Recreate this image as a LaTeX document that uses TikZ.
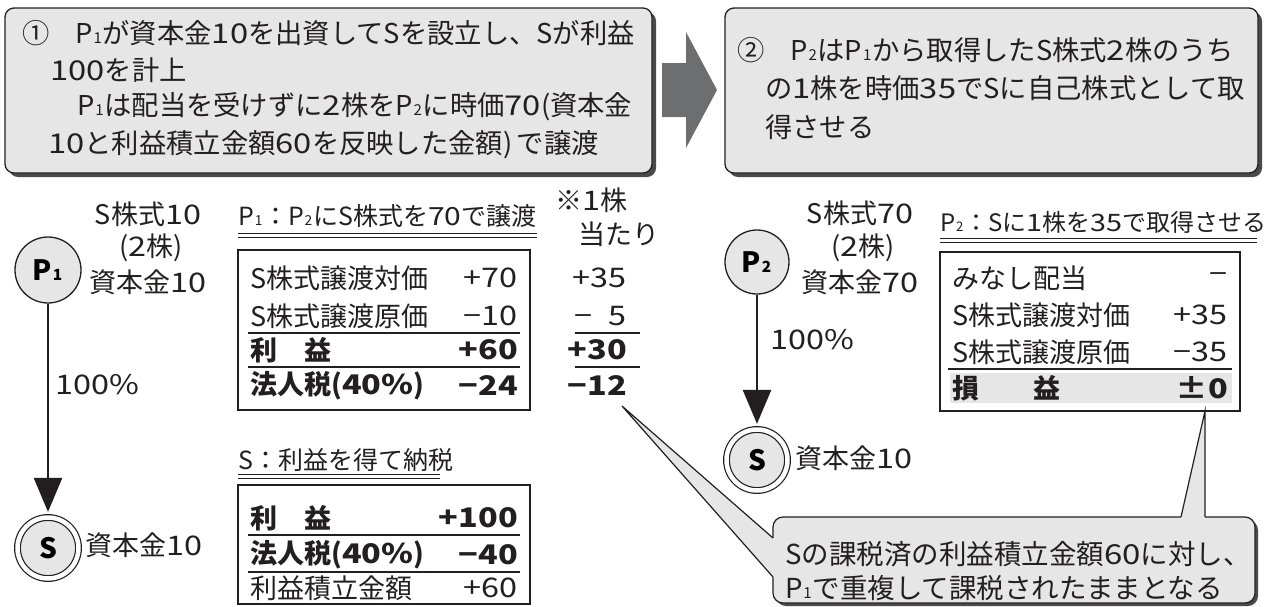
\documentclass[tikz,border=0pt]{standalone}
\usepackage{fontspec}
\setmainfont{Noto Sans CJK JP}
\usepackage{graphicx}
\usetikzlibrary{arrows.meta}
\definecolor{boxfill}{HTML}{E6E6E7}
\definecolor{shadowc}{HTML}{4A4A4A}
\definecolor{arrowc}{HTML}{6D6E70}
\definecolor{linec}{HTML}{231F20}
\newcommand\subn[1]{\kern0.03em\scalebox{0.55}{#1}\kern0.03em}
\newcommand\nm[1]{\scalebox{1.2}[1]{#1}}
\tikzset{
  topbox/.style={rounded corners=9pt, fill=boxfill, draw=linec, line width=1.3pt},
  shadowbox/.style={rounded corners=9pt, fill=shadowc},
  bigtxt/.style={inner sep=0pt, anchor=west, font=\fontsize{27.3}{27.3}\selectfont, text=linec},
  txt/.style={inner sep=0pt, font=\fontsize{27}{27}\selectfont, text=linec},
  btxt/.style={inner sep=0pt, font=\fontsize{27}{27}\selectfont\bfseries, text=linec},
  ttl/.style={inner sep=0pt, anchor=west, font=\fontsize{25}{25}\selectfont, text=linec},
  pcirc/.style={circle, draw=linec, fill=boxfill, line width=1.3pt, minimum size=66pt, inner sep=0pt, font=\fontsize{28}{28}\selectfont\bfseries},
  scirc/.style={circle, draw=linec, double=white, double distance=4.5pt, fill=boxfill, line width=1.2pt, minimum size=61pt, inner sep=0pt, font=\fontsize{28}{28}\selectfont\bfseries},
  conn/.style={draw=linec, line width=2.5pt, -{Triangle[width=28pt,length=34pt]}, shorten >=5pt},
  tablebox/.style={draw=linec, line width=1.3pt},
  rule/.style={draw=linec, line width=1.4pt},
  thin/.style={draw=linec, line width=0.9pt},
  callout/.style={rounded corners=10pt, fill=boxfill, draw=linec, line width=1.2pt},
}
\begin{document}
\begin{tikzpicture}[x=1pt,y=-1pt]
\useasboundingbox (0,0) rectangle (1267,606);
% ---- top box 1
\fill[shadowbox] (9,12) rectangle (656,177);
\draw[topbox] (5,8) rectangle (652,173);
\node[bigtxt] (t1a) at (22,33) {①\hspace{0.95em}P\subn{1}が資本金\nm{10}を出資してSを設立し、Sが利益};
\node[bigtxt] (t1b) at (50,70) {\nm{100}を計上};
\node[bigtxt] (t1c) at (77,107) {P\subn{1}は配当を受けずに\nm{2}株をP\subn{2}に時価\nm{70}(資本金};
\node[bigtxt] (t1d) at (48,145) {\nm{10}と利益積立金額\nm{60}を反映した金額)\,で譲渡};
% ---- arrow
\fill[arrowc] (662,63) -- (686,63) -- (686,32) -- (717,90) -- (686,148) -- (686,117) -- (662,117) -- cycle;
% ---- top box 2
\fill[shadowbox] (729,12) rectangle (1262,177);
\draw[topbox] (725,8) rectangle (1258,173);
\node[bigtxt] (t2a) at (737,50) {②\hspace{0.95em}P\subn{2}はP\subn{1}から取得したS株式\nm{2}株のうち};
\node[bigtxt] (t2b) at (765,88) {の\nm{1}株を時価\nm{35}でSに自己株式として取};
\node[bigtxt] (t2c) at (765,127) {得させる};
% ---- left graph
\node[pcirc] (p1) at (48,270) {P\subn{1}};
\node[scirc] (s1) at (48,548) {S};
\draw[conn] (p1) -- (s1);
\node[txt] (p1a) at (148,214) {S株式\nm{10}};
\node[txt] (p1b) at (151,248) {(\nm{2}株)};
\node[txt] (p1c) at (148,282) {資本金\nm{10}};
\node[txt, anchor=west] (pct1) at (55,385) {\nm{100\%}};
\node[txt, anchor=west] (s1c) at (85,545) {資本金\nm{10}};
% ---- table 1
\node[ttl] (ti1) at (238,216) {P\subn{1}：P\subn{2}にS株式を\nm{70}で譲渡};
\draw[thin] (238,233) -- (537,233);
\draw[thin] (238,237) -- (537,237);
\draw[tablebox] (238,250) rectangle (530,410);
\node[txt, anchor=west] (r1a) at (250,278) {S株式譲渡対価};
\node[txt, anchor=east] (r1b) at (518,278) {\nm{+70}};
\node[txt, anchor=west] (r2a) at (250,316) {S株式譲渡原価};
\node[txt, anchor=east] (r2b) at (518,316) {\nm{−10}};
\draw[rule] (248,333) -- (520,333);
\node[btxt, anchor=west] (r3a) at (250,350) {利\hspace{1em}益};
\node[btxt, anchor=east] (r3b) at (518,350) {\nm{+60}};
\draw[rule] (248,367) -- (520,367);
\node[btxt, anchor=west] (r4a) at (250,386) {法人税(\nm{40\%})};
\node[btxt, anchor=east] (r4b) at (518,386) {\nm{−24}};
% per share column
\node[txt, anchor=west] (ps1) at (555,200) {※\nm{1}株};
\node[txt, anchor=west] (ps2) at (578,234) {当たり};
\node[txt, anchor=east] (c1) at (627,278) {\nm{+35}};
\node[txt, anchor=east] (c2) at (627,316) {\nm{−\hspace{0.5em}5}};
\draw[rule] (575,333) -- (640,333);
\node[btxt, anchor=east] (c3) at (627,350) {\nm{+30}};
\draw[rule] (575,367) -- (640,367);
\node[btxt, anchor=east] (c4) at (627,386) {\nm{−12}};
\coordinate (tipL) at (622,406);
% ---- table 2
\node[ttl] (ti2) at (238,460) {S：利益を得て納税};
\draw[thin] (238,474) -- (440,474);
\draw[thin] (238,478) -- (440,478);
\draw[tablebox] (238,485) rectangle (530,604);
\node[btxt, anchor=west] (q1a) at (250,518) {利\hspace{1em}益};
\node[btxt, anchor=east] (q1b) at (518,518) {\nm{+100}};
\draw[rule] (248,535) -- (520,535);
\node[btxt, anchor=west] (q2a) at (250,555) {法人税(\nm{40\%})};
\node[btxt, anchor=east] (q2b) at (518,555) {\nm{−40}};
\draw[rule] (248,572) -- (520,572);
\node[txt, anchor=west] (q3a) at (250,588) {利益積立金額};
\node[txt, anchor=east] (q3b) at (518,588) {\nm{+60}};
% ---- right graph
\node[pcirc, minimum size=64pt] (p2) at (757,262) {P\subn{2}};
\node[scirc] (s2) at (757,460) {S};
\draw[conn] (p2) -- (s2);
\node[txt] (p2a) at (860,213) {S株式\nm{70}};
\node[txt] (p2b) at (863,248) {(\nm{2}株)};
\node[txt] (p2c) at (860,282) {資本金\nm{70}};
\node[txt, anchor=west] (pct2) at (770,340) {\nm{100\%}};
\node[txt, anchor=west] (s2c) at (795,458) {資本金\nm{10}};
% ---- table 3
\node[ttl, font=\fontsize{24}{24}\selectfont] (ti3) at (940,222) {P\subn{2}：Sに\nm{1}株を\nm{35}で取得させる};
\draw[thin] (940,238) -- (1257,238);
\draw[thin] (940,242) -- (1257,242);
\draw[tablebox] (940,252) rectangle (1240,411);
\fill[boxfill] (950,373) rectangle (1232,403);
\node[txt, anchor=west] (m1a) at (952,278) {みなし配当};
\node[txt, anchor=east] (m1b) at (1228,278) {\nm{−}};
\node[txt, anchor=west] (m2a) at (952,315) {S株式譲渡対価};
\node[txt, anchor=east] (m2b) at (1228,315) {\nm{+35}};
\node[txt, anchor=west] (m3a) at (952,352) {S株式譲渡原価};
\node[txt, anchor=east] (m3b) at (1228,352) {\nm{−35}};
\draw[rule] (948,369) -- (1232,369);
\node[btxt, anchor=west] (m4a) at (952,388) {損\hspace{2em}益};
\node[btxt, anchor=east] (m4b) at (1228,388) {\nm{±0}};
\coordinate (tipR) at (1205,411);
% ---- callout
\fill[shadowbox, rounded corners=10pt] (776,520) rectangle (1258,606);
\draw[callout] (773,517) rectangle (1255,603);
\fill[boxfill] (tipL) -- (773,538) -- (780,538) -- (780,577) -- (773,577) -- cycle;
\draw[draw=linec, line width=1.2pt] (773,538) -- (tipL) -- (773,577);
\fill[boxfill] (tipR) -- (1181,517) -- (1181,524) -- (1205,524) -- (1205,517) -- cycle;
\draw[draw=linec, line width=1.2pt] (1181,517) -- (tipR) -- (1205,517);
\node[txt, anchor=west, font=\fontsize{27.5}{27.5}\selectfont] (n1) at (785,554) {Sの課税済の利益積立金額\nm{60}に対し、};
\node[txt, anchor=west, font=\fontsize{27.5}{27.5}\selectfont] (n2) at (785,588) {P\subn{1}で重複して課税されたままとなる};
\end{tikzpicture}
\end{document}
